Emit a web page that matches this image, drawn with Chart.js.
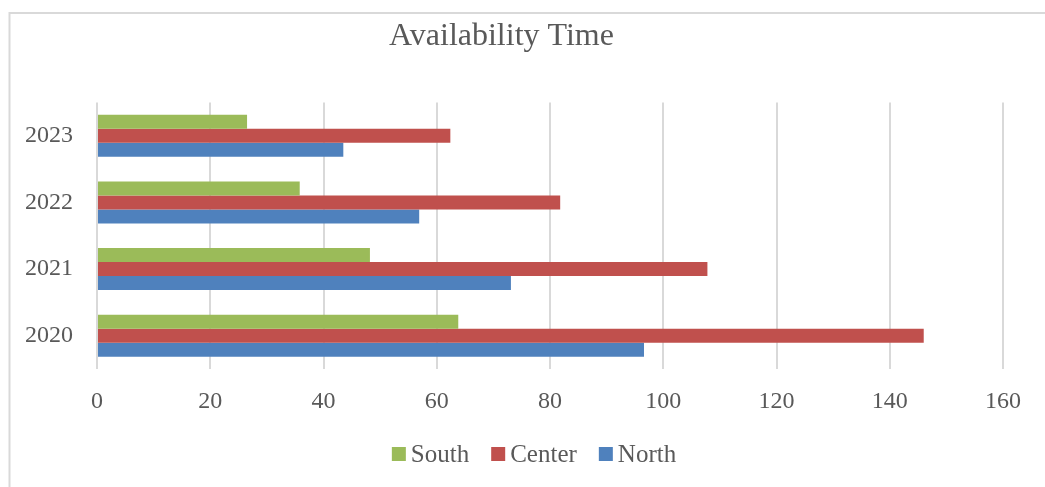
<!DOCTYPE html>
<html>
<head>
<meta charset="utf-8">
<title>Availability Time</title>
<style>
  html, body { margin: 0; padding: 0; background: #ffffff; }
  #wrap { width: 1045px; height: 487px; position: relative; }
  canvas { display: block; }
</style>
<script src="https://cdn.jsdelivr.net/npm/chart.js@4.4.1/dist/chart.umd.min.js"></script>
</head>
<body>
<div id="wrap"><canvas id="chart" width="1045" height="487"></canvas></div>
<script>
// Categories (bottom to top on the chart)
const years = ['2020', '2021', '2022', '2023'];

// Series values per year
const south  = [63.8, 48.2, 35.8, 26.5];
const center = [146.0, 107.8, 81.8, 62.4];
const north  = [96.6, 73.1, 56.9, 43.5];

// Series names and colours (legend order)
const seriesNames  = ['South', 'Center', 'North'];
const seriesColors = ['#9BBB59', '#C0504D', '#4F81BD'];

// Value axis range
const xMin = 0;
const xMax = 160;
const xStep = 20;

const FONT = "'Liberation Serif', 'Times New Roman', serif";
const TEXT = '#595959';

// Light frame along the top and left edges of the chart box
const framePlugin = {
  id: 'frame',
  beforeDraw(chart) {
    const ctx = chart.ctx;
    ctx.save();
    ctx.strokeStyle = '#d9d9d9';
    ctx.lineWidth = 2;
    ctx.beginPath();
    ctx.moveTo(9.5, chart.height);
    ctx.lineTo(9.5, 13);
    ctx.lineTo(chart.width, 13);
    ctx.stroke();
    ctx.restore();
  }
};

// Compact legend row under the axis
const legendRowPlugin = {
  id: 'legendRow',
  afterDraw(chart) {
    const ctx = chart.ctx;
    const box = 14, gap = 5, spacing = 22, cy = 454, midX = 534;
    ctx.save();
    ctx.font = '25px ' + FONT;
    ctx.textBaseline = 'middle';
    ctx.textAlign = 'left';
    const items = chart.data.datasets.map(ds => ({
      label: ds.label, color: ds.backgroundColor, w: ctx.measureText(ds.label).width
    }));
    let total = 0;
    items.forEach((it, i) => { total += box + gap + it.w + (i ? spacing : 0); });
    let x = midX - total / 2;
    items.forEach(it => {
      ctx.fillStyle = it.color;
      ctx.fillRect(x, cy - box / 2, box, box);
      ctx.fillStyle = TEXT;
      ctx.fillText(it.label, x + box + gap, cy + 1);
      x += box + gap + it.w + spacing;
    });
    ctx.restore();
  }
};

const seriesData = [south, center, north];

new Chart(document.getElementById('chart'), {
  type: 'bar',
  data: {
    labels: years,
    datasets: seriesNames.map((name, i) => ({
      label: name,
      data: seriesData[i],
      backgroundColor: seriesColors[i],
      borderWidth: 0,
      categoryPercentage: 0.63,
      barPercentage: 1.0
    }))
  },
  options: {
    indexAxis: 'y',
    responsive: false,
    animation: false,
    devicePixelRatio: 1,
    layout: { padding: { left: 0, right: 42, top: 0, bottom: 68 } },
    plugins: {
      legend: { display: false },
      tooltip: { enabled: false },
      title: {
        display: true,
        text: 'Availability Time',
        color: TEXT,
        font: { family: FONT, size: 32, weight: 'normal' },
        padding: { top: 17, bottom: 47.1 }
      }
    },
    scales: {
      x: {
        type: 'linear',
        min: xMin,
        max: xMax,
        ticks: {
          stepSize: xStep,
          color: TEXT,
          font: { family: FONT, size: 24 },
          padding: 18
        },
        grid: { color: '#d9d9d9', lineWidth: 2, drawTicks: false },
        border: { display: false },
        afterFit(scale) { scale.height = 50; }
      },
      y: {
        type: 'category',
        reverse: true,
        ticks: {
          color: TEXT,
          font: { family: FONT, size: 24 },
          padding: 24
        },
        grid: { display: false, drawTicks: false },
        border: { display: false },
        afterFit(scale) { scale.width = 97; }
      }
    }
  },
  plugins: [framePlugin, legendRowPlugin]
});
</script>
</body>
</html>
